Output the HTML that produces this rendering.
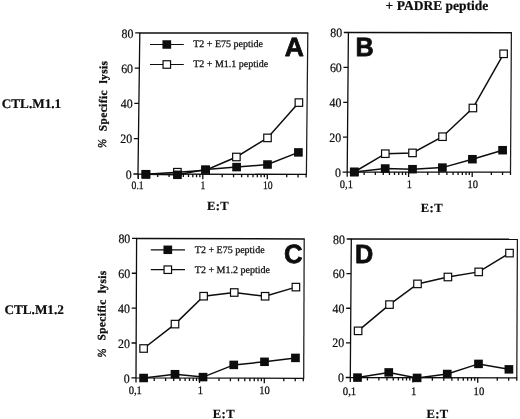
<!DOCTYPE html>
<html lang="en">
<head>
<meta charset="utf-8">
<title>CTL specific lysis</title>
<style>
html,body{margin:0;padding:0;background:#fff;}
body{width:520px;height:419px;overflow:hidden;}
svg{display:block;}
</style>
</head>
<body>
<svg width="520" height="419" viewBox="0 0 520 419">
<rect x="0" y="0" width="520" height="419" fill="#fff"/>
<g font-family="'Liberation Serif', 'DejaVu Serif', serif" fill="#0d0d0d" stroke="#0d0d0d" stroke-width="0" text-rendering="geometricPrecision">
<g id="panel-A">
<path d="M139.3 32.9L308.3 33.1" stroke-width="1.5" fill="none"/>
<path d="M139.8 32.9L138 174M138 174L306.9 174.4" stroke-width="1.3" fill="none"/>
<path d="M307.8 33.1L306.4 174.4" stroke-width="1.25" stroke="#1c1c1c" fill="none"/>
<text transform="translate(133.5 37.5) scale(0.93 1)" font-size="12.8" text-anchor="end" stroke-width="0.22">80</text>
<text transform="translate(133.05 72.77) scale(0.93 1)" font-size="12.8" text-anchor="end" stroke-width="0.22">60</text>
<text transform="translate(132.6 108.05) scale(0.93 1)" font-size="12.8" text-anchor="end" stroke-width="0.22">40</text>
<text transform="translate(132.15 143.32) scale(0.93 1)" font-size="12.8" text-anchor="end" stroke-width="0.22">20</text>
<text transform="translate(131.7 178.6) scale(0.93 1)" font-size="12.8" text-anchor="end" stroke-width="0.22">0</text>
<path d="M135.2 32.9H139.8M134.75 68.17H139.35M134.3 103.45H138.9M133.85 138.72H138.45M133.4 174H138M138.3 174v5.0M157.72 174.05v3.0M169.07 174.07v3.0M177.13 174.09v3.0M183.38 174.11v3.0M188.49 174.12v3.0M192.81 174.13v3.0M196.55 174.14v3.0M199.85 174.15v3.0M202.8 174.15v5.0M222.22 174.2v3.0M233.57 174.23v3.0M241.63 174.25v3.0M247.88 174.26v3.0M252.99 174.27v3.0M257.31 174.28v3.0M261.05 174.29v3.0M264.35 174.3v3.0M267.3 174.31v5.0M286.72 174.35v3.0M298.07 174.38v3.0M306.13 174.4v3.0M138 174v4.6" stroke-width="1.3" fill="none"/>
<text transform="translate(137.6 188.8) scale(0.85 1)" font-size="11.4" text-anchor="middle" stroke-width="0.25">0.1</text>
<text transform="translate(202.8 188.8) scale(0.85 1)" font-size="11.4" text-anchor="middle" stroke-width="0.25">1</text>
<text transform="translate(267.8 188.8) scale(0.85 1)" font-size="11.4" text-anchor="middle" stroke-width="0.25">10</text>
<polyline points="145.9,174.3 177.4,172.2 205.6,170.2 236.4,157 267.5,137.9 298.9,102.6" fill="none" stroke-width="1.5"/>
<polyline points="145.9,174.3 177.4,174.8 205.6,169.6 236.6,167.1 267.5,164.5 298.4,152.4" fill="none" stroke-width="1.5"/>
<rect x="142.15" y="170.55" width="7.5" height="7.5" fill="#fff" stroke="#0d0d0d" stroke-width="1.2"/>
<rect x="173.65" y="168.45" width="7.5" height="7.5" fill="#fff" stroke="#0d0d0d" stroke-width="1.2"/>
<rect x="201.85" y="166.45" width="7.5" height="7.5" fill="#fff" stroke="#0d0d0d" stroke-width="1.2"/>
<rect x="232.65" y="153.25" width="7.5" height="7.5" fill="#fff" stroke="#0d0d0d" stroke-width="1.2"/>
<rect x="263.75" y="134.15" width="7.5" height="7.5" fill="#fff" stroke="#0d0d0d" stroke-width="1.2"/>
<rect x="295.15" y="98.85" width="7.5" height="7.5" fill="#fff" stroke="#0d0d0d" stroke-width="1.2"/>
<rect x="141.55" y="170.05" width="8.7" height="8.5" fill="#0d0d0d"/>
<rect x="173.05" y="170.55" width="8.7" height="8.5" fill="#0d0d0d"/>
<rect x="201.25" y="165.35" width="8.7" height="8.5" fill="#0d0d0d"/>
<rect x="232.25" y="162.85" width="8.7" height="8.5" fill="#0d0d0d"/>
<rect x="263.15" y="160.25" width="8.7" height="8.5" fill="#0d0d0d"/>
<rect x="294.05" y="148.15" width="8.7" height="8.5" fill="#0d0d0d"/>
<line x1="150" y1="44.5" x2="183.8" y2="44.5" stroke-width="1.2"/>
<rect x="162.45" y="40.25" width="8.7" height="8.5" fill="#0d0d0d"/>
<text transform="translate(193.2 47.3) scale(1.0 1)" font-size="10" text-anchor="start" stroke-width="0.25">T2 + E75 peptide</text>
<line x1="150" y1="64.5" x2="183.8" y2="64.5" stroke-width="1.2"/>
<rect x="163.05" y="60.75" width="7.5" height="7.5" fill="#fff" stroke="#0d0d0d" stroke-width="1.2"/>
<text transform="translate(193.2 67.3) scale(1.0 1)" font-size="10" text-anchor="start" stroke-width="0.25">T2 + M1.1 peptide</text>
<text transform="translate(284.64 55.55) scale(1.0 1)" font-family="'Liberation Sans', 'DejaVu Sans', sans-serif" font-weight="bold" font-size="26.5" stroke-width="0.75" stroke-linejoin="round">A</text>
<g transform="translate(106.5 131.3) rotate(-89.3)" font-weight="bold" font-size="11.3" stroke-width="0.3" letter-spacing="0.45">
<text transform="translate(-12.3 -0.3) scale(0.9 1)" font-size="12" font-style="italic" font-weight="normal" text-anchor="middle" stroke-width="0.35" letter-spacing="0">%</text>
<text x="0" y="0">Specific</text>
<text x="47.8" y="0">lysis</text>
</g>
<text x="218" y="209.7" font-size="12.6" font-weight="bold" text-anchor="middle" letter-spacing="0.4" stroke-width="0.2">E:T</text>
</g>
<g id="panel-B">
<path d="M347.9 32.5L511.9 32.7" stroke-width="1.5" fill="none"/>
<path d="M348.4 32.5L347.2 172.1M347.2 172.1L511 172.1" stroke-width="1.3" fill="none"/>
<path d="M511.4 32.7L510.5 172.1" stroke-width="1.25" stroke="#1c1c1c" fill="none"/>
<text transform="translate(342.1 37.1) scale(0.93 1)" font-size="12.8" text-anchor="end" stroke-width="0.22">80</text>
<text transform="translate(341.8 72) scale(0.93 1)" font-size="12.8" text-anchor="end" stroke-width="0.22">60</text>
<text transform="translate(341.5 106.9) scale(0.93 1)" font-size="12.8" text-anchor="end" stroke-width="0.22">40</text>
<text transform="translate(341.2 141.8) scale(0.93 1)" font-size="12.8" text-anchor="end" stroke-width="0.22">20</text>
<text transform="translate(340.9 176.7) scale(0.93 1)" font-size="12.8" text-anchor="end" stroke-width="0.22">0</text>
<path d="M343.8 32.5H348.4M343.5 67.4H348.1M343.2 102.3H347.8M342.9 137.2H347.5M342.6 172.1H347.2M364.15 172.1v3.0M375.34 172.1v3.0M383.29 172.1v3.0M389.45 172.1v3.0M394.49 172.1v3.0M398.75 172.1v3.0M402.44 172.1v3.0M405.69 172.1v3.0M408.6 172.1v5.0M427.75 172.1v3.0M438.94 172.1v3.0M446.89 172.1v3.0M453.05 172.1v3.0M458.09 172.1v3.0M462.35 172.1v3.0M466.04 172.1v3.0M469.29 172.1v3.0M472.2 172.1v5.0M491.35 172.1v3.0M502.54 172.1v3.0M510.49 172.1v3.0M347.2 172.1v4.6" stroke-width="1.3" fill="none"/>
<text transform="translate(346.4 188) scale(0.92 1)" font-size="11.4" text-anchor="middle" stroke-width="0.25">0,1</text>
<text transform="translate(409.4 188) scale(0.92 1)" font-size="11.4" text-anchor="middle" stroke-width="0.25">1</text>
<text transform="translate(472.75 188) scale(0.92 1)" font-size="11.4" text-anchor="middle" stroke-width="0.25">10</text>
<polyline points="354.3,172 385.3,153.7 412.5,152.9 442.5,136.7 472.9,108 503.6,53.8" fill="none" stroke-width="1.5"/>
<polyline points="354.3,172 385.2,168.5 412.5,169.2 442.4,167.6 472.4,159.2 502.6,150.2" fill="none" stroke-width="1.5"/>
<rect x="350.55" y="168.25" width="7.5" height="7.5" fill="#fff" stroke="#0d0d0d" stroke-width="1.2"/>
<rect x="381.55" y="149.95" width="7.5" height="7.5" fill="#fff" stroke="#0d0d0d" stroke-width="1.2"/>
<rect x="408.75" y="149.15" width="7.5" height="7.5" fill="#fff" stroke="#0d0d0d" stroke-width="1.2"/>
<rect x="438.75" y="132.95" width="7.5" height="7.5" fill="#fff" stroke="#0d0d0d" stroke-width="1.2"/>
<rect x="469.15" y="104.25" width="7.5" height="7.5" fill="#fff" stroke="#0d0d0d" stroke-width="1.2"/>
<rect x="499.85" y="50.05" width="7.5" height="7.5" fill="#fff" stroke="#0d0d0d" stroke-width="1.2"/>
<rect x="349.95" y="167.75" width="8.7" height="8.5" fill="#0d0d0d"/>
<rect x="380.85" y="164.25" width="8.7" height="8.5" fill="#0d0d0d"/>
<rect x="408.15" y="164.95" width="8.7" height="8.5" fill="#0d0d0d"/>
<rect x="438.05" y="163.35" width="8.7" height="8.5" fill="#0d0d0d"/>
<rect x="468.05" y="154.95" width="8.7" height="8.5" fill="#0d0d0d"/>
<rect x="498.25" y="145.95" width="8.7" height="8.5" fill="#0d0d0d"/>
<text transform="translate(355.52 56) scale(0.95 1)" font-family="'Liberation Sans', 'DejaVu Sans', sans-serif" font-weight="bold" font-size="26.5" stroke-width="0.75" stroke-linejoin="round">B</text>
<text x="431.9" y="211.8" font-size="12.6" font-weight="bold" text-anchor="middle" letter-spacing="0.4" stroke-width="0.2">E:T</text>
</g>
<g id="panel-C">
<path d="M136.1 238.4L304.7 239" stroke-width="1.5" fill="none"/>
<path d="M136.6 238.4L136 377.9M136 377.9L304.2 378.3" stroke-width="1.3" fill="none"/>
<path d="M304.2 239L303.7 378.3" stroke-width="1.25" stroke="#1c1c1c" fill="none"/>
<text transform="translate(130.3 243) scale(0.93 1)" font-size="12.8" text-anchor="end" stroke-width="0.22">80</text>
<text transform="translate(130.15 277.88) scale(0.93 1)" font-size="12.8" text-anchor="end" stroke-width="0.22">60</text>
<text transform="translate(130 312.75) scale(0.93 1)" font-size="12.8" text-anchor="end" stroke-width="0.22">40</text>
<text transform="translate(129.85 347.62) scale(0.93 1)" font-size="12.8" text-anchor="end" stroke-width="0.22">20</text>
<text transform="translate(129.7 382.5) scale(0.93 1)" font-size="12.8" text-anchor="end" stroke-width="0.22">0</text>
<path d="M132 238.4H136.6M131.85 273.27H136.45M131.7 308.15H136.3M131.55 343.02H136.15M131.4 377.9H136M154.21 377.94v3.0M165.62 377.97v3.0M173.71 377.99v3.0M179.99 378v3.0M185.12 378.02v3.0M189.46 378.03v3.0M193.22 378.04v3.0M196.53 378.04v3.0M199.5 378.05v5.0M219.01 378.1v3.0M230.42 378.13v3.0M238.51 378.14v3.0M244.79 378.16v3.0M249.92 378.17v3.0M254.26 378.18v3.0M258.02 378.19v3.0M261.33 378.2v3.0M264.3 378.21v5.0M283.81 378.25v3.0M295.22 378.28v3.0M303.31 378.3v3.0M136 377.9v4.6" stroke-width="1.3" fill="none"/>
<text transform="translate(135.3 394.4) scale(0.93 1)" font-size="11.4" text-anchor="middle" stroke-width="0.25">0,1</text>
<text transform="translate(200.3 394.4) scale(0.93 1)" font-size="11.4" text-anchor="middle" stroke-width="0.25">1</text>
<text transform="translate(264.5 394.4) scale(0.93 1)" font-size="11.4" text-anchor="middle" stroke-width="0.25">10</text>
<polyline points="143.6,348.5 175,324.1 203.6,296.2 234.25,292.5 265.1,296.25 295.9,287.1" fill="none" stroke-width="1.5"/>
<polyline points="143.6,378 175,374.2 203,377.1 233.75,364.9 264.5,361.8 295.45,357.9" fill="none" stroke-width="1.5"/>
<rect x="139.85" y="344.75" width="7.5" height="7.5" fill="#fff" stroke="#0d0d0d" stroke-width="1.2"/>
<rect x="171.25" y="320.35" width="7.5" height="7.5" fill="#fff" stroke="#0d0d0d" stroke-width="1.2"/>
<rect x="199.85" y="292.45" width="7.5" height="7.5" fill="#fff" stroke="#0d0d0d" stroke-width="1.2"/>
<rect x="230.5" y="288.75" width="7.5" height="7.5" fill="#fff" stroke="#0d0d0d" stroke-width="1.2"/>
<rect x="261.35" y="292.5" width="7.5" height="7.5" fill="#fff" stroke="#0d0d0d" stroke-width="1.2"/>
<rect x="292.15" y="283.35" width="7.5" height="7.5" fill="#fff" stroke="#0d0d0d" stroke-width="1.2"/>
<rect x="139.25" y="373.75" width="8.7" height="8.5" fill="#0d0d0d"/>
<rect x="170.65" y="369.95" width="8.7" height="8.5" fill="#0d0d0d"/>
<rect x="198.65" y="372.85" width="8.7" height="8.5" fill="#0d0d0d"/>
<rect x="229.4" y="360.65" width="8.7" height="8.5" fill="#0d0d0d"/>
<rect x="260.15" y="357.55" width="8.7" height="8.5" fill="#0d0d0d"/>
<rect x="291.1" y="353.65" width="8.7" height="8.5" fill="#0d0d0d"/>
<line x1="150.8" y1="249.8" x2="185" y2="249.8" stroke-width="1.2"/>
<rect x="163.45" y="245.55" width="8.7" height="8.5" fill="#0d0d0d"/>
<text transform="translate(194.8 252.6) scale(1.0 1)" font-size="10" text-anchor="start" stroke-width="0.25">T2 + E75 peptide</text>
<line x1="150.8" y1="269.7" x2="185" y2="269.7" stroke-width="1.2"/>
<rect x="164.05" y="265.95" width="7.5" height="7.5" fill="#fff" stroke="#0d0d0d" stroke-width="1.2"/>
<text transform="translate(194.8 272.5) scale(1.0 1)" font-size="10" text-anchor="start" stroke-width="0.25">T2 + M1.2 peptide</text>
<text transform="translate(284.05 263) scale(0.97 1)" font-family="'Liberation Sans', 'DejaVu Sans', sans-serif" font-weight="bold" font-size="26.5" stroke-width="0.75" stroke-linejoin="round">C</text>
<g transform="translate(105.2 340.6) rotate(-89.3)" font-weight="bold" font-size="11.3" stroke-width="0.3" letter-spacing="0.45">
<text transform="translate(-12.5 0.7) scale(0.9 1)" font-size="12" font-style="italic" font-weight="normal" text-anchor="middle" stroke-width="0.35" letter-spacing="0">%</text>
<text x="0" y="0">Specific</text>
<text x="47.3" y="0">lysis</text>
</g>
<text x="223.9" y="417.7" font-size="12.6" font-weight="bold" text-anchor="middle" letter-spacing="0.4" stroke-width="0.2">E:T</text>
</g>
<g id="panel-D">
<path d="M350.8 239L517.9 239.3" stroke-width="1.5" fill="none"/>
<path d="M351.3 239L350.3 377.5M350.3 377.5L517.3 377.8" stroke-width="1.3" fill="none"/>
<path d="M517.4 239.3L516.8 377.8" stroke-width="1.25" stroke="#1c1c1c" fill="none"/>
<text transform="translate(345 243.6) scale(0.93 1)" font-size="12.8" text-anchor="end" stroke-width="0.22">80</text>
<text transform="translate(344.75 278.23) scale(0.93 1)" font-size="12.8" text-anchor="end" stroke-width="0.22">60</text>
<text transform="translate(344.5 312.85) scale(0.93 1)" font-size="12.8" text-anchor="end" stroke-width="0.22">40</text>
<text transform="translate(344.25 347.48) scale(0.93 1)" font-size="12.8" text-anchor="end" stroke-width="0.22">20</text>
<text transform="translate(344 382.1) scale(0.93 1)" font-size="12.8" text-anchor="end" stroke-width="0.22">0</text>
<path d="M346.7 239H351.3M346.45 273.62H351.05M346.2 308.25H350.8M345.95 342.88H350.55M345.7 377.5H350.3M367.44 377.53v3.0M378.87 377.55v3.0M386.97 377.57v3.0M393.26 377.58v3.0M398.4 377.59v3.0M402.75 377.59v3.0M406.51 377.6v3.0M409.83 377.61v3.0M412.8 377.61v5.0M432.34 377.65v3.0M443.77 377.67v3.0M451.87 377.68v3.0M458.16 377.69v3.0M463.3 377.7v3.0M467.65 377.71v3.0M471.41 377.72v3.0M474.73 377.72v3.0M477.7 377.73v5.0M497.24 377.76v3.0M508.67 377.79v3.0M516.77 377.8v3.0M350.3 377.5v4.6" stroke-width="1.3" fill="none"/>
<text transform="translate(349.5 394.6) scale(0.94 1)" font-size="11.4" text-anchor="middle" stroke-width="0.25">0,1</text>
<text transform="translate(413.75 394.6) scale(0.94 1)" font-size="11.4" text-anchor="middle" stroke-width="0.25">1</text>
<text transform="translate(478.9 394.6) scale(0.94 1)" font-size="11.4" text-anchor="middle" stroke-width="0.25">10</text>
<polyline points="358.1,330.85 389.5,304.6 417.5,283.9 447.9,277 478.7,271.9 509.5,253.1" fill="none" stroke-width="1.5"/>
<polyline points="357.5,377.6 388.75,372.4 417.1,377.9 447.25,374 478.5,363.9 508.9,369.35" fill="none" stroke-width="1.5"/>
<rect x="354.35" y="327.1" width="7.5" height="7.5" fill="#fff" stroke="#0d0d0d" stroke-width="1.2"/>
<rect x="385.75" y="300.85" width="7.5" height="7.5" fill="#fff" stroke="#0d0d0d" stroke-width="1.2"/>
<rect x="413.75" y="280.15" width="7.5" height="7.5" fill="#fff" stroke="#0d0d0d" stroke-width="1.2"/>
<rect x="444.15" y="273.25" width="7.5" height="7.5" fill="#fff" stroke="#0d0d0d" stroke-width="1.2"/>
<rect x="474.95" y="268.15" width="7.5" height="7.5" fill="#fff" stroke="#0d0d0d" stroke-width="1.2"/>
<rect x="505.75" y="249.35" width="7.5" height="7.5" fill="#fff" stroke="#0d0d0d" stroke-width="1.2"/>
<rect x="353.15" y="373.35" width="8.7" height="8.5" fill="#0d0d0d"/>
<rect x="384.4" y="368.15" width="8.7" height="8.5" fill="#0d0d0d"/>
<rect x="412.75" y="373.65" width="8.7" height="8.5" fill="#0d0d0d"/>
<rect x="442.9" y="369.75" width="8.7" height="8.5" fill="#0d0d0d"/>
<rect x="474.15" y="359.65" width="8.7" height="8.5" fill="#0d0d0d"/>
<rect x="504.55" y="365.1" width="8.7" height="8.5" fill="#0d0d0d"/>
<text transform="translate(354.91 263.3) scale(0.96 1)" font-family="'Liberation Sans', 'DejaVu Sans', sans-serif" font-weight="bold" font-size="26.3" stroke-width="0.75" stroke-linejoin="round">D</text>
<text x="437.5" y="417.5" font-size="12.6" font-weight="bold" text-anchor="middle" letter-spacing="0.4" stroke-width="0.2">E:T</text>
</g>
<text transform="translate(1.8 107.5) scale(1.0 1)" font-size="13.2" text-anchor="start" font-weight="bold" stroke-width="0.2">CTL.M1.1</text>
<text transform="translate(4.5 314.3) scale(1.0 1)" font-size="13.2" text-anchor="start" font-weight="bold" stroke-width="0.2">CTL.M1.2</text>
<text transform="translate(385.6 9.6) scale(1.0 1)" font-size="13.5" text-anchor="start" font-weight="bold" stroke-width="0.2">+ PADRE peptide</text>
</g>
</svg>
</body>
</html>
